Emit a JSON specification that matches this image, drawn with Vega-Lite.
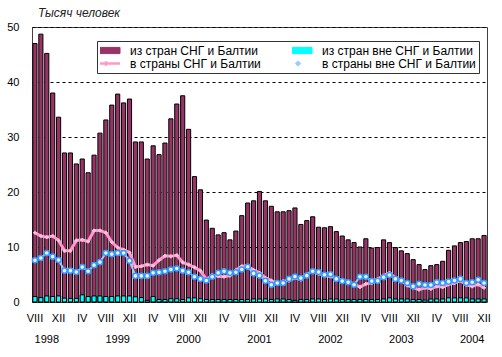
{
  "$schema": "https://vega.github.io/schema/vega-lite/v6.json",
  "width": 455,
  "height": 275,
  "autosize": "none",
  "padding": {"left": 32, "top": 27, "right": 15, "bottom": 55},
  "background": "white",
  "config": {
    "font": "Liberation Sans",
    "view": {"stroke": "#404040", "strokeWidth": 1}
  },
  "title": {
    "text": "Тысяч человек",
    "anchor": "start",
    "frame": "group",
    "dx": 6,
    "offset": 1,
    "fontSize": 12,
    "fontStyle": "italic",
    "fontWeight": "normal",
    "color": "#222222"
  },
  "data": {
    "values": [
      {"m": "1998-08", "a": 47.0, "b": 1.0, "c": 12.6, "d": 7.6},
      {"m": "1998-09", "a": 48.7, "b": 0.8, "c": 12.0, "d": 8.0},
      {"m": "1998-10", "a": 45.2, "b": 1.1, "c": 11.8, "d": 8.9},
      {"m": "1998-11", "a": 38.0, "b": 1.0, "c": 12.0, "d": 8.25},
      {"m": "1998-12", "a": 33.6, "b": 1.1, "c": 11.2, "d": 7.65},
      {"m": "1999-01", "a": 27.1, "b": 0.7, "c": 9.3, "d": 5.7},
      {"m": "1999-02", "a": 27.1, "b": 0.65, "c": 9.3, "d": 5.7},
      {"m": "1999-03", "a": 25.1, "b": 0.65, "c": 11.2, "d": 5.45},
      {"m": "1999-04", "a": 26.0, "b": 1.3, "c": 11.3, "d": 6.35},
      {"m": "1999-05", "a": 23.5, "b": 1.0, "c": 11.0, "d": 5.6},
      {"m": "1999-06", "a": 26.7, "b": 1.1, "c": 13.0, "d": 6.7},
      {"m": "1999-07", "a": 30.7, "b": 1.1, "c": 13.0, "d": 7.25},
      {"m": "1999-08", "a": 33.1, "b": 1.0, "c": 12.6, "d": 8.9},
      {"m": "1999-09", "a": 35.8, "b": 1.0, "c": 10.9, "d": 8.7},
      {"m": "1999-10", "a": 37.8, "b": 1.1, "c": 9.9, "d": 8.9},
      {"m": "1999-11", "a": 36.2, "b": 1.1, "c": 9.5, "d": 8.9},
      {"m": "1999-12", "a": 36.9, "b": 1.1, "c": 9.0, "d": 7.5},
      {"m": "2000-01", "a": 29.1, "b": 0.95, "c": 6.4, "d": 4.75},
      {"m": "2000-02", "a": 29.1, "b": 0.8, "c": 6.5, "d": 4.75},
      {"m": "2000-03", "a": 26.0, "b": 0.3, "c": 6.8, "d": 4.75},
      {"m": "2000-04", "a": 28.4, "b": 1.0, "c": 6.6, "d": 5.3},
      {"m": "2000-05", "a": 26.8, "b": 0.45, "c": 7.6, "d": 5.4},
      {"m": "2000-06", "a": 28.9, "b": 0.45, "c": 8.4, "d": 5.6},
      {"m": "2000-07", "a": 33.3, "b": 0.6, "c": 8.3, "d": 5.9},
      {"m": "2000-08", "a": 36.0, "b": 0.6, "c": 8.5, "d": 6.1},
      {"m": "2000-09", "a": 37.5, "b": 0.45, "c": 7.2, "d": 5.7},
      {"m": "2000-10", "a": 31.4, "b": 0.75, "c": 6.8, "d": 5.4},
      {"m": "2000-11", "a": 22.8, "b": 0.75, "c": 6.3, "d": 4.6},
      {"m": "2000-12", "a": 20.4, "b": 0.6, "c": 5.7, "d": 4.2},
      {"m": "2001-01", "a": 14.9, "b": 0.45, "c": 4.1, "d": 3.9},
      {"m": "2001-02", "a": 13.4, "b": 0.45, "c": 4.9, "d": 4.6},
      {"m": "2001-03", "a": 12.2, "b": 0.45, "c": 4.7, "d": 5.3},
      {"m": "2001-04", "a": 12.6, "b": 0.45, "c": 4.6, "d": 5.6},
      {"m": "2001-05", "a": 11.3, "b": 0.45, "c": 4.8, "d": 5.3},
      {"m": "2001-06", "a": 12.9, "b": 0.45, "c": 5.8, "d": 5.4},
      {"m": "2001-07", "a": 15.7, "b": 0.45, "c": 6.5, "d": 5.9},
      {"m": "2001-08", "a": 18.0, "b": 0.45, "c": 6.6, "d": 6.4},
      {"m": "2001-09", "a": 18.4, "b": 0.55, "c": 5.8, "d": 5.2},
      {"m": "2001-10", "a": 20.1, "b": 0.55, "c": 5.3, "d": 4.8},
      {"m": "2001-11", "a": 18.4, "b": 0.55, "c": 4.4, "d": 3.85},
      {"m": "2001-12", "a": 17.4, "b": 0.45, "c": 3.9, "d": 3.15},
      {"m": "2002-01", "a": 16.4, "b": 0.55, "c": 3.3, "d": 3.45},
      {"m": "2002-02", "a": 16.4, "b": 0.55, "c": 3.8, "d": 3.45},
      {"m": "2002-03", "a": 16.6, "b": 0.45, "c": 3.9, "d": 4.2},
      {"m": "2002-04", "a": 17.1, "b": 0.3, "c": 4.4, "d": 4.65},
      {"m": "2002-05", "a": 14.1, "b": 0.45, "c": 4.05, "d": 4.35},
      {"m": "2002-06", "a": 14.8, "b": 0.45, "c": 5.0, "d": 4.8},
      {"m": "2002-07", "a": 15.5, "b": 0.55, "c": 5.6, "d": 5.6},
      {"m": "2002-08", "a": 13.6, "b": 0.55, "c": 5.15, "d": 5.45},
      {"m": "2002-09", "a": 13.5, "b": 0.45, "c": 4.8, "d": 4.95},
      {"m": "2002-10", "a": 13.7, "b": 0.55, "c": 4.65, "d": 5.05},
      {"m": "2002-11", "a": 12.8, "b": 0.55, "c": 4.4, "d": 4.2},
      {"m": "2002-12", "a": 12.0, "b": 0.45, "c": 3.9, "d": 3.8},
      {"m": "2003-01", "a": 11.3, "b": 0.45, "c": 3.7, "d": 3.6},
      {"m": "2003-02", "a": 10.8, "b": 0.45, "c": 3.3, "d": 3.15},
      {"m": "2003-03", "a": 10.0, "b": 0.45, "c": 2.7, "d": 4.6},
      {"m": "2003-04", "a": 11.5, "b": 0.45, "c": 3.3, "d": 4.6},
      {"m": "2003-05", "a": 9.8, "b": 0.45, "c": 3.45, "d": 3.8},
      {"m": "2003-06", "a": 9.9, "b": 0.45, "c": 4.2, "d": 3.85},
      {"m": "2003-07", "a": 11.3, "b": 0.55, "c": 4.8, "d": 4.5},
      {"m": "2003-08", "a": 10.8, "b": 0.75, "c": 5.3, "d": 4.9},
      {"m": "2003-09", "a": 9.9, "b": 0.55, "c": 4.4, "d": 4.2},
      {"m": "2003-10", "a": 9.3, "b": 0.55, "c": 3.9, "d": 3.9},
      {"m": "2003-11", "a": 8.8, "b": 0.55, "c": 3.0, "d": 3.45},
      {"m": "2003-12", "a": 7.7, "b": 0.45, "c": 2.6, "d": 2.85},
      {"m": "2004-01", "a": 6.8, "b": 0.45, "c": 2.25, "d": 3.3},
      {"m": "2004-02", "a": 5.9, "b": 0.35, "c": 2.6, "d": 3.1},
      {"m": "2004-03", "a": 6.6, "b": 0.55, "c": 2.4, "d": 3.1},
      {"m": "2004-04", "a": 6.8, "b": 0.55, "c": 2.85, "d": 3.6},
      {"m": "2004-05", "a": 7.4, "b": 0.55, "c": 2.7, "d": 3.45},
      {"m": "2004-06", "a": 9.4, "b": 0.75, "c": 3.2, "d": 3.7},
      {"m": "2004-07", "a": 10.2, "b": 0.75, "c": 3.45, "d": 3.9},
      {"m": "2004-08", "a": 10.8, "b": 0.75, "c": 3.9, "d": 4.2},
      {"m": "2004-09", "a": 11.0, "b": 0.75, "c": 3.1, "d": 3.45},
      {"m": "2004-10", "a": 11.5, "b": 0.55, "c": 2.85, "d": 3.6},
      {"m": "2004-11", "a": 11.5, "b": 0.55, "c": 3.2, "d": 4.05},
      {"m": "2004-12", "a": 12.1, "b": 0.55, "c": 2.6, "d": 3.45}
    ]
  },
  "encoding": {
    "x": {
      "field": "m",
      "type": "ordinal",
      "title": null,
      "scale": {"paddingInner": 0.3, "paddingOuter": 0.15},
      "axis": {
        "ticks": false,
        "domain": false,
        "grid": false,
        "labelAngle": 0,
        "labelOverlap": false,
        "labelFontSize": 11,
        "labelColor": "black",
        "labelPadding": 10,
        "labelLineHeight": 21,
        "labelExpr": "substring(datum.value,5,7)=='08' ? 'VIII' : substring(datum.value,5,7)=='12' ? 'XII' : substring(datum.value,5,7)=='04' ? 'IV' : substring(datum.value,5,7)=='10' ? ['', substring(datum.value,0,4)] : ''"
      }
    }
  },
  "layer": [
    {
      "mark": {"type": "bar", "stroke": "black", "strokeWidth": 1},
      "encoding": {
        "y": {
          "field": "a",
          "type": "quantitative",
          "title": null,
          "scale": {"domain": [0, 50], "nice": false},
          "axis": {
            "values": [0, 5, 10, 15, 20, 25, 30, 35, 40, 45, 50],
            "ticks": false,
            "domain": false,
            "grid": true,
            "gridColor": "black",
            "gridDash": [3, 3],
            "gridOpacity": 1,
            "labelFontSize": 11,
            "labelColor": "black",
            "labelPadding": 13
          }
        },
        "color": {
          "datum": "a",
          "scale": {
            "domain": ["a", "b", "c", "d"],
            "range": ["#993366", "#00ffff", "#ff99cc", "#99ccff"]
          },
          "legend": {
            "orient": "none",
            "legendX": 65,
            "legendY": 14,
            "direction": "horizontal",
            "columns": 2,
            "title": null,
            "padding": 3,
            "strokeColor": "#333333",
            "fillColor": "white",
            "labelFontSize": 12,
            "labelColor": "black",
            "labelLimit": 400,
            "labelOffset": 18,
            "columnPadding": 31,
            "rowPadding": 0,
            "clipHeight": 13,
            "symbolSize": 784,
            "symbolOpacity": 1,
            "symbolType": {"expr": "datum.value=='a' || datum.value=='b' ? 'M-1,-0.22H1V0.22H-1Z' : datum.value=='c' ? 'M-1,0H1M0,-0.16V0.16M-0.16,0H0.16' : 'M0,-0.19L0.19,0L0,0.19L-0.19,0Z'"},
            "symbolStrokeColor": {"expr": "datum.value=='a' || datum.value=='b' ? 'black' : datum.value=='c' ? '#ff99cc' : '#3399ff'"},
            "symbolStrokeWidth": {"expr": "datum.value=='c' ? 2.5 : 1"},
            "labelExpr": "datum.label=='a' ? 'из стран СНГ и Балтии' : datum.label=='b' ? 'из стран вне СНГ и Балтии' : datum.label=='c' ? 'в страны СНГ и Балтии' : 'в страны вне СНГ и Балтии'"
          }
        }
      }
    },
    {
      "mark": {"type": "bar", "stroke": "black", "strokeWidth": 1},
      "encoding": {
        "y": {"field": "b", "type": "quantitative", "title": null},
        "color": {"datum": "b"}
      }
    },
    {
      "mark": {"type": "line", "strokeWidth": 3},
      "encoding": {
        "y": {"field": "c", "type": "quantitative", "title": null},
        "color": {"datum": "c"}
      }
    },
    {
      "mark": {"type": "point", "shape": "cross", "filled": true, "color": "#ffc2e0", "size": 14, "opacity": 1},
      "encoding": {
        "y": {"field": "c", "type": "quantitative", "title": null}
      }
    },
    {
      "mark": {"type": "line", "strokeWidth": 2},
      "encoding": {
        "y": {"field": "d", "type": "quantitative", "title": null},
        "color": {"datum": "d"}
      }
    },
    {
      "mark": {"type": "point", "shape": "circle", "filled": false, "fill": "#e6f5ff", "fillOpacity": 1, "stroke": "#3399ff", "strokeWidth": 1.5, "size": 26, "opacity": 1},
      "encoding": {
        "y": {"field": "d", "type": "quantitative", "title": null}
      }
    }
  ]
}
